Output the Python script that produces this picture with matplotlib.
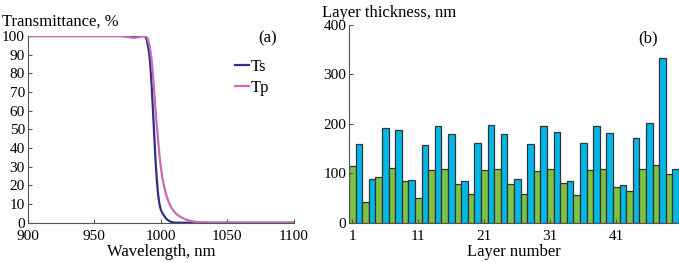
import numpy as np
import matplotlib
matplotlib.use('Agg')
import matplotlib.pyplot as plt

plt.rcParams['font.family'] = ['Liberation Serif', 'DejaVu Serif']
plt.rcParams['font.size'] = 11

# ---------------- datos (a) ----------------
wl_s = [900, 940, 970, 980, 985, 988, 989.5, 991, 992, 993, 994, 995, 996, 997,
        998, 999, 1000, 1001, 1002, 1004, 1006, 1008, 1010, 1015, 1100]
ts = [100, 100, 100, 99.7, 100, 100, 98, 92, 86, 75, 62, 48, 34, 23,
      15, 10, 7, 5.5, 4.3, 2.2, 1.1, 0.4, 0.1, 0, 0]
wl_p = [900, 940, 970, 975, 980, 984, 988, 990, 991.5, 993, 994, 995, 996, 997,
        998, 999, 1000, 1001, 1002, 1004, 1006, 1008, 1010, 1012, 1015, 1020,
        1025, 1030, 1040, 1100]
tp = [100, 100, 100, 99.5, 99, 99.5, 100, 99, 95, 88, 80, 71, 61, 52,
      44, 36, 30, 25, 21, 15, 11, 8, 6, 4.5, 3, 1.4,
      0.6, 0.2, 0, 0]

# ---------------- datos (b) ----------------
capas = np.arange(1, 51)
espesor = [114, 160, 41, 88, 92, 191, 110, 188, 84, 86,
           51, 158, 107, 196, 109, 179, 78, 85, 59, 161,
           106, 197, 109, 180, 78, 88, 58, 159, 105, 196,
           109, 183, 80, 85, 57, 161, 106, 196, 109, 181,
           72, 76, 64, 171, 108, 201, 117, 334, 99, 109]
colores = ['#7dc242' if c % 2 == 1 else '#00b8e8' for c in capas]

fig = plt.figure(figsize=(6.79, 2.63), dpi=100)

# ---- panel (a) ----
ax1 = fig.add_axes([0.0408, 0.153, 0.392, 0.71])
ax1.plot(wl_s, ts, color='#2e2f86', lw=1.6, label='Ts')
ax1.plot(wl_p, tp, color='#c76bb8', lw=1.6, label='Tp')
ax1.set_xlim(900, 1100)
ax1.set_ylim(0, 100)
ax1.set_xticks([900, 950, 1000, 1050, 1100])
ax1.set_yticks(range(0, 101, 10))
ax1.set_xlabel('Wavelength, nm', fontsize=12, labelpad=1)
ax1.text(-0.095, 1.035, 'Transmittance, %', fontsize=12, transform=ax1.transAxes,
         ha='left', va='bottom')
ax1.text(0.937, 1.03, '(a)', fontsize=12, transform=ax1.transAxes, ha='right', va='top')
ax1.legend(loc='upper right', bbox_to_anchor=(0.94, 0.92), frameon=False, fontsize=12,
           handlelength=0.8, handletextpad=0.15, labelspacing=0.3, borderpad=0)

# ---- panel (b) ----
ax2 = fig.add_axes([0.514, 0.153, 0.486, 0.752])
ax2.bar(capas, espesor, width=1.0, color=colores, edgecolor='#333333', linewidth=0.9)
ax2.set_xlim(0.5, 50.5)
ax2.set_ylim(0, 400)
ax2.set_xticks([1, 11, 21, 31, 41])
ax2.set_yticks(range(0, 401, 100))
ax2.set_xlabel('Layer number', fontsize=12, labelpad=1)
ax2.text(-0.082, 1.02, 'Layer thickness, nm', fontsize=12, transform=ax2.transAxes,
         ha='left', va='bottom')
ax2.text(0.936, 0.975, '(b)', fontsize=12, transform=ax2.transAxes, ha='right', va='top')

for ax in (ax1, ax2):
    for s in ('top', 'right'):
        ax.spines[s].set_visible(False)
    for s in ('left', 'bottom'):
        ax.spines[s].set_color('#555555')
    ax.tick_params(direction='in', length=3, color='#555555')
    ax.tick_params(axis='x', pad=5)
    ax.tick_params(axis='y', pad=2)

fig.savefig('out.png', dpi=100)
